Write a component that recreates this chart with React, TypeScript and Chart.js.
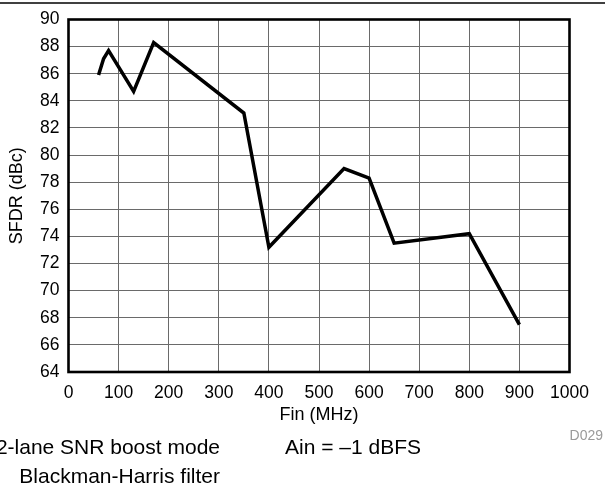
import React, { useEffect, useRef } from "react";
import { Chart, registerables } from "chart.js";

Chart.register(...registerables);

const finMHz = [60, 70, 80, 130, 170, 350, 400, 550, 600, 650, 800, 900];
const sfdrDbc = [85.9, 87.1, 87.7, 84.7, 88.3, 83.1, 73.2, 79.0, 78.3, 73.5, 74.2, 67.5];
const xTitle = "Fin (MHz)";
const yTitle = "SFDR (dBc)";
const noteLeft = ["2-lane SNR boost mode", "Blackman-Harris filter"];
const noteRight = "Ain = \u20131 dBFS";
const figId = "D029";

const FONT = "'Liberation Sans', Arial, sans-serif";

const decorPlugin = {
  id: "decor",
  beforeDatasetsDraw(chart: any) {
    const { ctx, chartArea } = chart;
    ctx.save();
    ctx.strokeStyle = "#000";
    ctx.lineWidth = 2.6;
    ctx.strokeRect(chartArea.left, chartArea.top, chartArea.right - chartArea.left, chartArea.bottom - chartArea.top);
    ctx.restore();
  },
  afterDraw(chart: any) {
    const { ctx } = chart;
    ctx.save();
    ctx.strokeStyle = "#000";
    ctx.lineWidth = 1.5;
    ctx.beginPath();
    ctx.moveTo(0, 3);
    ctx.lineTo(605, 3);
    ctx.stroke();

    ctx.fillStyle = "#000";
    ctx.font = `21px ${FONT}`;
    ctx.textBaseline = "alphabetic";
    ctx.textAlign = "right";
    ctx.fillText(noteLeft[0], 220, 454);
    ctx.fillText(noteLeft[1], 220, 483);
    ctx.textAlign = "left";
    ctx.fillText(noteRight, 285, 454);

    ctx.fillStyle = "#9a9a9a";
    ctx.font = `14px ${FONT}`;
    ctx.textAlign = "right";
    ctx.fillText(figId, 603, 440);
    ctx.restore();
  },
};

export default function App() {
  const ref = useRef<HTMLCanvasElement>(null);

  useEffect(() => {
    if (!ref.current) return;
    const chart = new Chart(ref.current, {
      type: "line",
      data: {
        datasets: [
          {
            data: finMHz.map((x, i) => ({ x, y: sfdrDbc[i] })),
            borderColor: "#000",
            borderWidth: 3.5,
            pointRadius: 0,
            tension: 0,
            borderJoinStyle: "miter",
            fill: false,
          },
        ],
      },
      options: {
        responsive: false,
        animation: false,
        events: [],
        layout: { padding: { left: 0, top: 18.5, right: 35.5, bottom: 61 } },
        plugins: { legend: { display: false }, tooltip: { enabled: false } },
        scales: {
          x: {
            type: "linear",
            min: 0,
            max: 1000,
            afterFit: (s: any) => {
              s.height = 54;
            },
            ticks: {
              stepSize: 100,
              padding: 11,
              color: "#000",
              font: { family: FONT, size: 17.5 },
              maxRotation: 0,
              autoSkip: false,
              callback: (v: any) => String(v),
            },
            grid: { color: "#6a6a6a", lineWidth: 1, drawTicks: false },
            border: { display: false },
            title: {
              display: true,
              text: xTitle,
              color: "#000",
              font: { family: FONT, size: 18 },
              padding: { top: 0, bottom: 0 },
            },
          },
          y: {
            type: "linear",
            min: 64,
            max: 90,
            afterFit: (s: any) => {
              s.width = 68.5;
            },
            ticks: {
              stepSize: 2,
              padding: 9,
              color: "#000",
              font: { family: FONT, size: 17.5 },
              autoSkip: false,
              callback: (v: any) => String(v),
            },
            grid: { color: "#6a6a6a", lineWidth: 1, drawTicks: false },
            border: { display: false },
            title: {
              display: true,
              text: yTitle,
              color: "#000",
              font: { family: FONT, size: 18 },
              padding: { top: 6, bottom: 0 },
            },
          },
        },
      },
      plugins: [decorPlugin],
    });
    return () => chart.destroy();
  }, []);

  return (
    <div style={{ position: "fixed", left: 0, top: 0, width: 605, height: 487, background: "#fff" }}>
      <canvas ref={ref} width={605} height={487} style={{ display: "block", width: 605, height: 487 }} />
    </div>
  );
}
